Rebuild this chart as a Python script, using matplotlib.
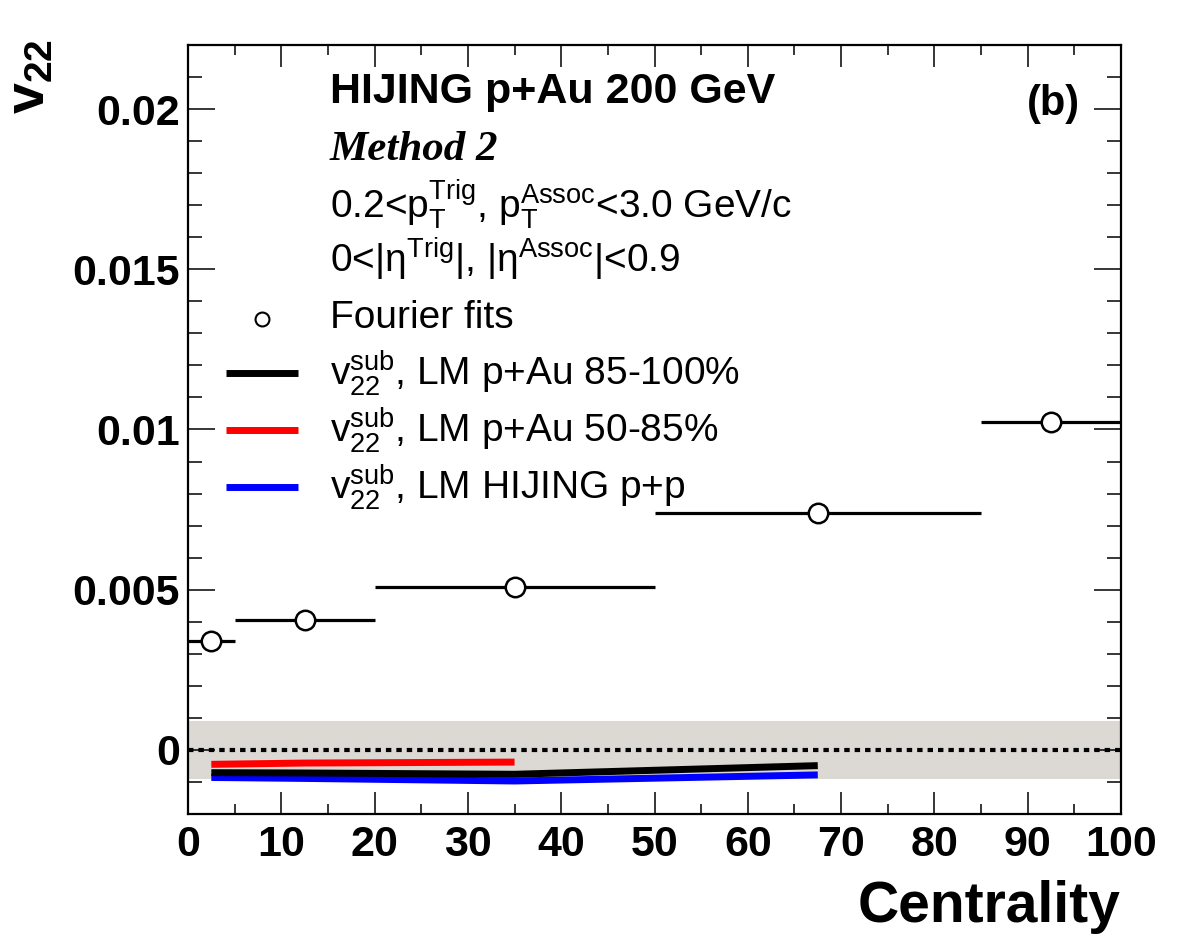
import matplotlib
matplotlib.use("Agg")
import matplotlib.pyplot as plt
from matplotlib.ticker import MultipleLocator

plt.rcParams['font.family'] = ['Liberation Sans', 'DejaVu Sans']
plt.rcParams['mathtext.fontset'] = 'custom'
plt.rcParams['mathtext.rm'] = 'Liberation Sans'
plt.rcParams['mathtext.it'] = 'Liberation Sans:italic'
plt.rcParams['mathtext.bf'] = 'Liberation Sans:bold'

# Fourier-fit points (centrality bins)
cent = [2.5, 12.5, 35, 67.5, 92.5]
cent_lo = [0, 5, 20, 50, 85]
cent_hi = [5, 20, 50, 85, 100]
v22 = [0.00341, 0.00406, 0.0051, 0.0074, 0.01022]

# LM subtracted curves
lm_x = [2.5, 12.5, 35, 67.5]
lm_8500 = [-0.00071, -0.00072, -0.00076, -0.00049]
lm_pp = [-0.00086, -0.00089, -0.00097, -0.00078]
lm_50_x = [2.5, 12.5, 35]
lm_5085 = [-0.00045, -0.00041, -0.00038]

band = 0.0009

W, H = 1182, 938
fig = plt.figure(figsize=(W / 100, H / 100), dpi=100)
ax = fig.add_axes([188 / W, 1 - 814 / H, (1121 - 188) / W, (814 - 45) / H])

ax.axhspan(-band, band, color='#dcd8d4', zorder=0, lw=0)
ax.axhline(0, color='black', lw=3, dashes=(1.3, 1.2), zorder=1)

ax.plot(lm_x, lm_8500, color='black', lw=5, solid_capstyle='butt', zorder=3)
ax.plot(lm_50_x, lm_5085, color='red', lw=5, solid_capstyle='butt', zorder=3)
ax.plot(lm_x, lm_pp, color='blue', lw=5, solid_capstyle='butt', zorder=2)

xerr = [[c - lo for c, lo in zip(cent, cent_lo)], [hi - c for c, hi in zip(cent, cent_hi)]]
ax.errorbar(cent, v22, xerr=xerr, fmt='o', color='black', mfc='white', mec='black',
            ms=14, mew=1.8, elinewidth=2.3, capsize=0, zorder=5)

ax.set_xlim(0, 100)
ax.set_ylim(-0.002, 0.022)
ax.xaxis.set_major_locator(MultipleLocator(10))
ax.xaxis.set_minor_locator(MultipleLocator(5))
ax.yaxis.set_minor_locator(MultipleLocator(0.001))
ax.set_yticks([0, 0.005, 0.01, 0.015, 0.02])
ax.set_yticklabels(['0', '0.005', '0.01', '0.015', '0.02'])
ax.tick_params(axis='both', which='both', direction='in', top=True, right=True, width=1.1)
ax.tick_params(axis='y', which='major', length=19.5, pad=6, labelsize=31)
ax.tick_params(axis='y', which='minor', length=10)
ax.tick_params(axis='x', which='major', length=16, pad=8, labelsize=31)
ax.tick_params(axis='x', which='minor', length=7.5)
for lab in ax.get_xticklabels() + ax.get_yticklabels():
    lab.set_fontweight('bold')
for s in ax.spines.values():
    s.set_linewidth(1.6)

def fx(px):
    return px / W

def fy(py):
    return 1 - py / H

fig.text(fx(1121), fy(922), 'Centrality', fontsize=41, fontweight='bold', ha='right', va='baseline')
fig.text(fx(4), fy(114), r'$\mathbf{v}_{\mathbf{22}}$', fontsize=40, rotation=90, ha='left', va='bottom')

fig.text(fx(330), fy(103), 'HIJING p+Au 200 GeV', fontsize=31, fontweight='bold', va='baseline')
fig.text(fx(330), fy(160), 'Method 2', fontsize=31, fontweight='bold', fontstyle='italic',
         family='Liberation Serif', va='baseline')
fig.text(fx(330), fy(218), r'0.2<$\mathrm{p_T^{Trig}}$, $\mathrm{p_T^{Assoc}}$<3.0 GeV/c',
         fontsize=28, va='baseline')
fig.text(fx(330), fy(273), r'0<|$\mathrm{\eta^{Trig}}$|, |$\mathrm{\eta^{Assoc}}$|<0.9',
         fontsize=28, va='baseline')
fig.text(fx(330), fy(328), 'Fourier fits', fontsize=28, va='baseline')
fig.text(fx(1080), fy(115), '(b)', fontsize=30, fontweight='bold', ha='right', va='baseline')

fig.lines.append(plt.Line2D([fx(262)], [fy(319)], marker='o', ms=10, mfc='white', mec='black',
                            mew=1.5, transform=fig.transFigure))
leg_y = [373, 430, 487]
leg_c = ['black', 'red', 'blue']
leg_t = ['LM p+Au 85-100%', 'LM p+Au 50-85%', 'LM HIJING p+p']
for yy, cc, tt in zip(leg_y, leg_c, leg_t):
    fig.lines.append(plt.Line2D([fx(226), fx(298)], [fy(yy), fy(yy)], color=cc, lw=5,
                                solid_capstyle='butt', transform=fig.transFigure))
    fig.text(fx(330), fy(yy + 12), r'$\mathrm{v_{22}^{sub}}$, ' + tt, fontsize=28, va='baseline')

fig.savefig('out.png', dpi=100)
